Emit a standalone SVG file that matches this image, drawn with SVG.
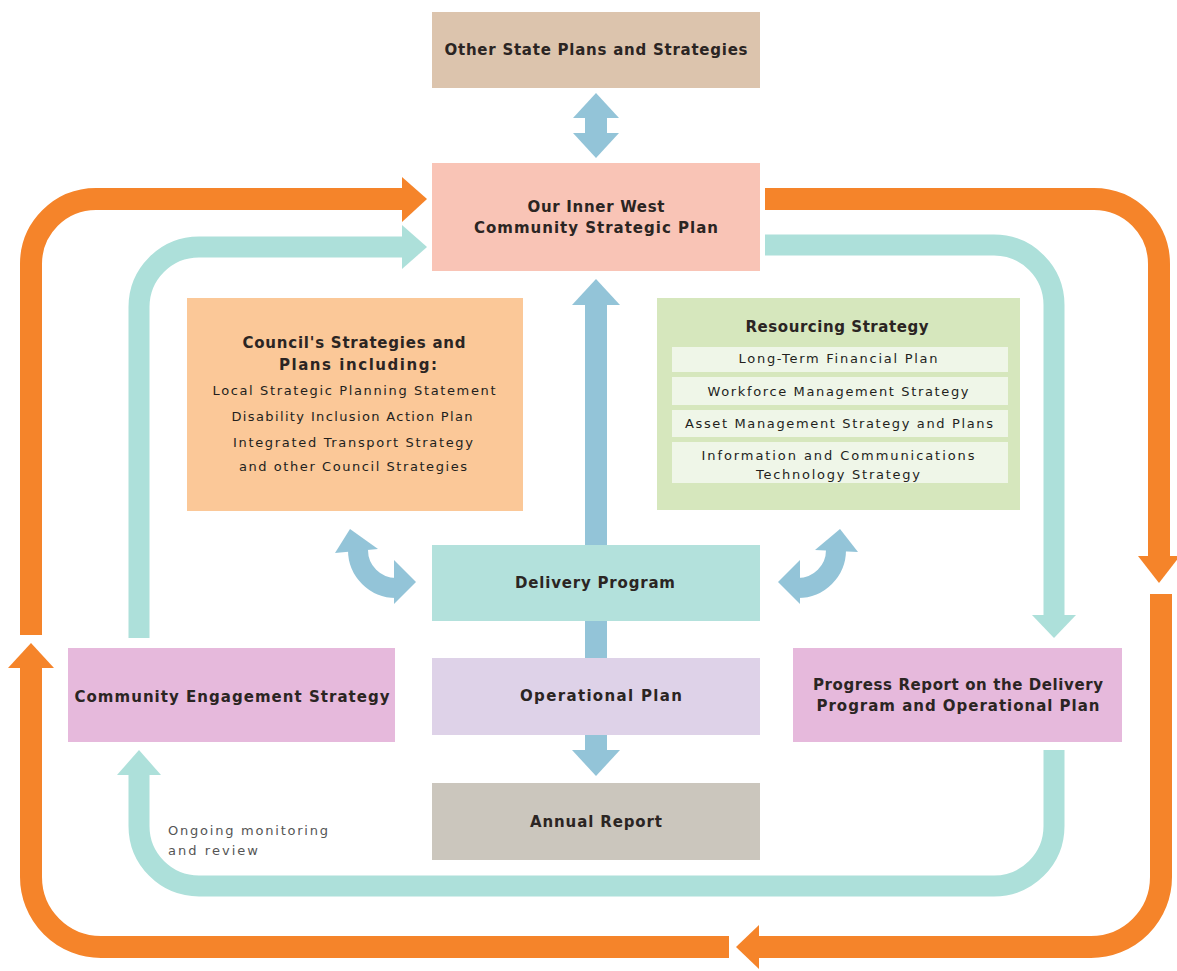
<svg xmlns="http://www.w3.org/2000/svg" width="1177" height="971" viewBox="0 0 1177 971">
<style>
.t{font-family:"DejaVu Sans","Liberation Sans",sans-serif;fill:#2b2523;text-anchor:middle}
.h{font-size:15px;font-weight:700}
.s{font-size:13px;font-weight:400;fill:#231f1d}
.n{font-family:"DejaVu Sans","Liberation Sans",sans-serif;font-size:13px;fill:#555;font-weight:400}
.or{fill:none;stroke:#f5842a;stroke-width:22}
.tl{fill:none;stroke:#ade0da;stroke-width:21}
.bl{fill:#93c4d8}
.ohead{fill:#f5842a}
.thead{fill:#ade0da}
</style>
<rect width="1177" height="971" fill="#ffffff"/>
<g id="connectors">
  <path class="or" d="M31,635 V264 A65,65 0 0 1 96,199 H404"/>
  <polygon class="ohead" points="402,177 427,199 402,222"/>
  <path class="or" d="M765,199 H1094 A65,65 0 0 1 1159,264 V557"/>
  <polygon class="ohead" points="1138,556 1180,556 1159,583"/>
  <path class="or" d="M1161,594 V877 A70,70 0 0 1 1091,947 H758"/>
  <polygon class="ohead" points="759,925 736,947 759,969"/>
  <path class="or" d="M729,947 H101 A70,70 0 0 1 31,877 V666"/>
  <polygon class="ohead" points="8,668 31,643 54,668"/>
  <path class="tl" d="M139,638 V307 A60,60 0 0 1 199,247 H404"/>
  <polygon class="thead" points="402,225 427,247 402,269"/>
  <path class="tl" d="M765,245 H994 A60,60 0 0 1 1054,305 V616"/>
  <polygon class="thead" points="1032,615 1076,615 1054,638"/>
  <path class="tl" d="M1054,750 V826 A60,60 0 0 1 994,886 H199 A60,60 0 0 1 139,826 V774"/>
  <polygon class="thead" points="117,775 139,750 161,775"/>
  <rect class="bl" x="585" y="112" width="22" height="26"/>
  <polygon class="bl" points="573,118 596,93 619,118"/>
  <polygon class="bl" points="573,133 596,158 619,133"/>
  <rect class="bl" x="585" y="300" width="22" height="454"/>
  <polygon class="bl" points="572,305 596,279 620,305"/>
  <polygon class="bl" points="572,750 596,776 620,750"/>
  <path d="M358,550 A38,38 0 0 0 396,588" fill="none" stroke="#93c4d8" stroke-width="20"/>
  <polygon class="bl" points="335,553 350,529 378,549"/>
  <polygon class="bl" points="394,560 416,582 394,604"/>
  <path d="M836,550 A38,38 0 0 1 798,588" fill="none" stroke="#93c4d8" stroke-width="20"/>
  <polygon class="bl" points="815,550 840,529 858,552"/>
  <polygon class="bl" points="800,560 778,582 800,604"/>
</g>
<g id="other-state">
  <rect x="432" y="12" width="328" height="76" fill="#dcc4ad"/>
  <text class="t h" x="596" y="55" textLength="303" lengthAdjust="spacing">Other State Plans and Strategies</text>
</g>
<g id="csp">
  <rect x="432" y="163" width="328" height="108" fill="#f9c4b6"/>
  <text class="t h" x="596" y="212" textLength="137" lengthAdjust="spacing">Our Inner West</text>
  <text class="t h" x="596" y="233" textLength="244" lengthAdjust="spacing">Community Strategic Plan</text>
</g>
<g id="council-strategies">
  <rect x="187" y="298" width="336" height="213" fill="#fbc898"/>
  <text class="t h" x="354" y="348" textLength="223" lengthAdjust="spacing">Council's Strategies and</text>
  <text class="t h" x="358" y="370" textLength="158" lengthAdjust="spacing">Plans including:</text>
  <text class="t s" x="354" y="395" textLength="283" lengthAdjust="spacing">Local Strategic Planning Statement</text>
  <text class="t s" x="352" y="421" textLength="241" lengthAdjust="spacing">Disability Inclusion Action Plan</text>
  <text class="t s" x="353" y="447" textLength="240" lengthAdjust="spacing">Integrated Transport Strategy</text>
  <text class="t s" x="353" y="471" textLength="228" lengthAdjust="spacing">and other Council Strategies</text>
</g>
<g id="resourcing">
  <rect x="657" y="298" width="363" height="212" fill="#d6e7bd"/>
  <rect x="672" y="347" width="336" height="25" fill="#eff6e8"/>
  <rect x="672" y="377" width="336" height="28" fill="#eff6e8"/>
  <rect x="672" y="410" width="336" height="27" fill="#eff6e8"/>
  <rect x="672" y="442" width="336" height="41" fill="#eff6e8"/>
  <text class="t h" x="837" y="332" textLength="183" lengthAdjust="spacing">Resourcing Strategy</text>
  <text class="t s" x="838" y="363" textLength="199" lengthAdjust="spacing">Long-Term Financial Plan</text>
  <text class="t s" x="838" y="396" textLength="261" lengthAdjust="spacing">Workforce Management Strategy</text>
  <text class="t s" x="839" y="428" textLength="308" lengthAdjust="spacing">Asset Management Strategy and Plans</text>
  <text class="t s" x="838" y="460" textLength="273" lengthAdjust="spacing">Information and Communications</text>
  <text class="t s" x="838" y="479" textLength="164" lengthAdjust="spacing">Technology Strategy</text>
</g>
<g id="delivery-program">
  <rect x="432" y="545" width="328" height="76" fill="#b3e1dc"/>
  <text class="t h" x="595" y="588" textLength="160" lengthAdjust="spacing">Delivery Program</text>
</g>
<g id="operational-plan">
  <rect x="432" y="658" width="328" height="77" fill="#ded2e8"/>
  <text class="t h" x="601" y="701" textLength="162" lengthAdjust="spacing">Operational Plan</text>
</g>
<g id="annual-report">
  <rect x="432" y="783" width="328" height="77" fill="#cbc6bd"/>
  <text class="t h" x="596" y="827" textLength="132" lengthAdjust="spacing">Annual Report</text>
</g>
<g id="community-engagement">
  <rect x="68" y="648" width="327" height="94" fill="#e6b9dc"/>
  <text class="t h" x="232" y="702" textLength="315" lengthAdjust="spacing">Community Engagement Strategy</text>
</g>
<g id="progress-report">
  <rect x="793" y="648" width="329" height="94" fill="#e6b9dc"/>
  <text class="t h" x="958" y="690" textLength="290" lengthAdjust="spacing">Progress Report on the Delivery</text>
  <text class="t h" x="958" y="711" textLength="283" lengthAdjust="spacing">Program and Operational Plan</text>
</g>
<g id="monitoring-label">
  <text class="n" x="168" y="835" textLength="160" lengthAdjust="spacing">Ongoing monitoring</text>
  <text class="n" x="168" y="855" textLength="90" lengthAdjust="spacing">and review</text>
</g>
</svg>
